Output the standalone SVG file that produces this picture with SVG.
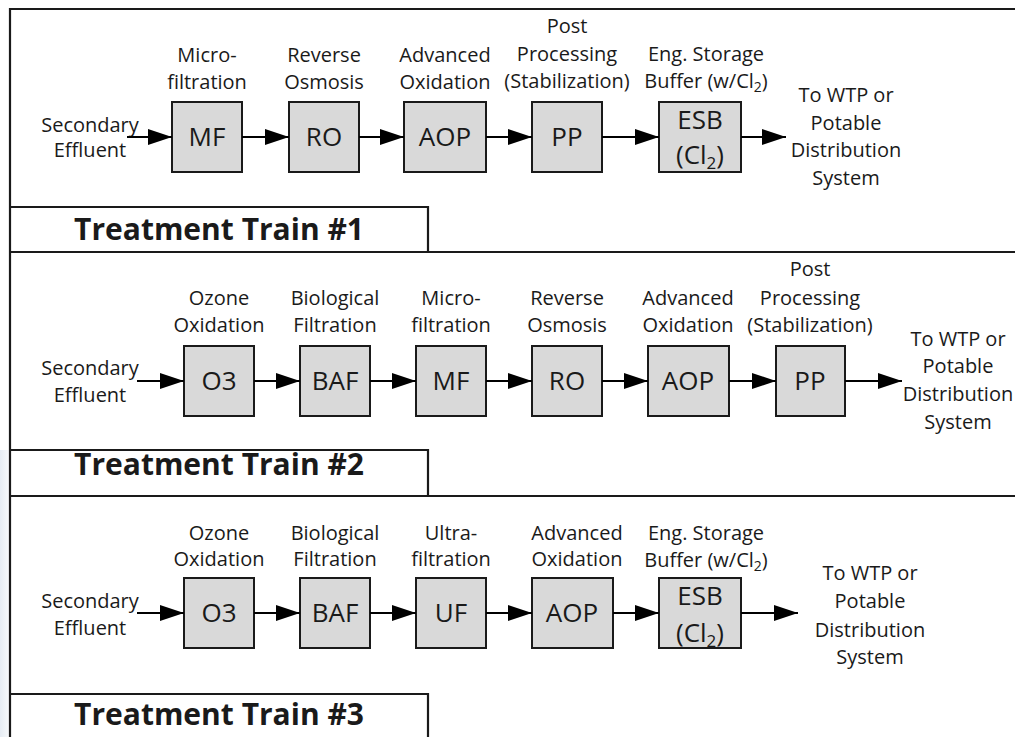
<svg xmlns="http://www.w3.org/2000/svg" width="1015" height="737" viewBox="0 0 1015 737">
<style>
text{font-family:"Open Sans","Liberation Sans",sans-serif;fill:#1a1a1a}
.lbl{font-size:20px;text-anchor:middle}
.box{fill:#d9d9d9;stroke:#1a1a1a;stroke-width:2}
.bt{font-size:26px;text-anchor:middle}
.frame{stroke:#1a1a1a;stroke-width:2.2;fill:none}
.title{font-size:30px;font-weight:bold;text-anchor:middle}
.conn{stroke:#000;stroke-width:2;fill:none;marker-end:url(#ah)}
</style>
<defs>
<marker id="ah" markerUnits="userSpaceOnUse" markerWidth="24" markerHeight="16" refX="24" refY="8" orient="auto">
<path d="M0,0 L24,8 L0,16 z" fill="#000"/>
</marker>
<linearGradient id="lg" x1="0" y1="0" x2="1" y2="0">
<stop offset="0" stop-color="#e6ecf3"/><stop offset="1" stop-color="#f7f9fb"/>
</linearGradient>
</defs>
<rect width="1015" height="737" fill="#fff"/>
<rect x="0" y="450" width="9" height="287" fill="url(#lg)"/>

<g id="frame" class="frame">
<path d="M10,737 V9 H1015"/>
<path d="M10,252 H1015"/>
<path d="M10,496 H1015"/>
<path d="M10,207 H428 V252"/>
<path d="M10,450 H428 V496"/>
<path d="M10,694 H428 V737"/>
</g>

<!-- Train 1 -->
<g id="t1-title"><text class="title" x="219" y="240">Treatment Train #1</text></g>
<g id="t1-in"><text class="lbl" x="90" y="132">Secondary</text><text class="lbl" x="90" y="157">Effluent</text></g>
<g id="t1-mf"><text class="lbl" x="207" y="62">Micro-</text><text class="lbl" x="207" y="89">filtration</text><rect class="box" x="172" y="102" width="70" height="70"/><text class="bt" x="207" y="146">MF</text></g>
<g id="t1-ro"><text class="lbl" x="324" y="62">Reverse</text><text class="lbl" x="324" y="89">Osmosis</text><rect class="box" x="289" y="102" width="70" height="70"/><text class="bt" x="324" y="146">RO</text></g>
<g id="t1-aop"><text class="lbl" x="445" y="62">Advanced</text><text class="lbl" x="445" y="89">Oxidation</text><rect class="box" x="404" y="102" width="82" height="70"/><text class="bt" x="445" y="146">AOP</text></g>
<g id="t1-pp"><text class="lbl" x="567" y="33">Post</text><text class="lbl" x="567" y="61">Processing</text><text class="lbl" x="567" y="88">(Stabilization)</text><rect class="box" x="532" y="102" width="70" height="70"/><text class="bt" x="567" y="146">PP</text></g>
<g id="t1-esb"><text class="lbl" x="706" y="61">Eng. Storage</text><text class="lbl" x="706" y="88">Buffer (w/Cl<tspan font-size="14" dy="4">2</tspan><tspan dy="-4">)</tspan></text><rect class="box" x="659" y="102" width="82" height="70"/><text class="bt" x="700" y="129">ESB</text><text class="bt" x="700" y="164">(Cl<tspan font-size="17" dy="5">2</tspan><tspan dy="-5">)</tspan></text></g>
<g id="t1-out"><text class="lbl" x="846" y="102">To WTP or</text><text class="lbl" x="846" y="130">Potable</text><text class="lbl" x="846" y="157">Distribution</text><text class="lbl" x="846" y="185">System</text></g>

<!-- Train 2 -->
<g id="t2-title"><text class="title" x="219" y="475">Treatment Train #2</text></g>
<g id="t2-in"><text class="lbl" x="90" y="375">Secondary</text><text class="lbl" x="90" y="402">Effluent</text></g>
<g id="t2-o3"><text class="lbl" x="219" y="305">Ozone</text><text class="lbl" x="219" y="332">Oxidation</text><rect class="box" x="184" y="346" width="70" height="70"/><text class="bt" x="219" y="390">O3</text></g>
<g id="t2-baf"><text class="lbl" x="335" y="305">Biological</text><text class="lbl" x="335" y="332">Filtration</text><rect class="box" x="300" y="346" width="70" height="70"/><text class="bt" x="335" y="390">BAF</text></g>
<g id="t2-mf"><text class="lbl" x="451" y="305">Micro-</text><text class="lbl" x="451" y="332">filtration</text><rect class="box" x="416" y="346" width="70" height="70"/><text class="bt" x="451" y="390">MF</text></g>
<g id="t2-ro"><text class="lbl" x="567" y="305">Reverse</text><text class="lbl" x="567" y="332">Osmosis</text><rect class="box" x="532" y="346" width="70" height="70"/><text class="bt" x="567" y="390">RO</text></g>
<g id="t2-aop"><text class="lbl" x="688" y="305">Advanced</text><text class="lbl" x="688" y="332">Oxidation</text><rect class="box" x="648" y="346" width="81" height="70"/><text class="bt" x="688" y="390">AOP</text></g>
<g id="t2-pp"><text class="lbl" x="810" y="276">Post</text><text class="lbl" x="810" y="305">Processing</text><text class="lbl" x="810" y="332">(Stabilization)</text><rect class="box" x="776" y="346" width="69" height="70"/><text class="bt" x="810" y="390">PP</text></g>
<g id="t2-out"><text class="lbl" x="958" y="346">To WTP or</text><text class="lbl" x="958" y="373">Potable</text><text class="lbl" x="958" y="401">Distribution</text><text class="lbl" x="958" y="429">System</text></g>

<!-- Train 3 -->
<g id="t3-title"><text class="title" x="219" y="725">Treatment Train #3</text></g>
<g id="t3-in"><text class="lbl" x="90" y="608">Secondary</text><text class="lbl" x="90" y="635">Effluent</text></g>
<g id="t3-o3"><text class="lbl" x="219" y="540">Ozone</text><text class="lbl" x="219" y="566">Oxidation</text><rect class="box" x="184" y="578" width="70" height="70"/><text class="bt" x="219" y="622">O3</text></g>
<g id="t3-baf"><text class="lbl" x="335" y="540">Biological</text><text class="lbl" x="335" y="566">Filtration</text><rect class="box" x="300" y="578" width="70" height="70"/><text class="bt" x="335" y="622">BAF</text></g>
<g id="t3-uf"><text class="lbl" x="451" y="540">Ultra-</text><text class="lbl" x="451" y="566">filtration</text><rect class="box" x="416" y="578" width="70" height="70"/><text class="bt" x="451" y="622">UF</text></g>
<g id="t3-aop"><text class="lbl" x="577" y="540">Advanced</text><text class="lbl" x="577" y="566">Oxidation</text><rect class="box" x="532" y="578" width="81" height="70"/><text class="bt" x="572" y="622">AOP</text></g>
<g id="t3-esb"><text class="lbl" x="706" y="540">Eng. Storage</text><text class="lbl" x="706" y="567">Buffer (w/Cl<tspan font-size="14" dy="4">2</tspan><tspan dy="-4">)</tspan></text><rect class="box" x="659" y="578" width="82" height="70"/><text class="bt" x="700" y="605">ESB</text><text class="bt" x="700" y="642">(Cl<tspan font-size="17" dy="5">2</tspan><tspan dy="-5">)</tspan></text></g>
<g id="t3-out"><text class="lbl" x="870" y="580">To WTP or</text><text class="lbl" x="870" y="608">Potable</text><text class="lbl" x="870" y="637">Distribution</text><text class="lbl" x="870" y="664">System</text></g>

<g id="connectors">
<path class="conn" d="M127,137 H172"/>
<path class="conn" d="M242,137 H289"/>
<path class="conn" d="M359,137 H404"/>
<path class="conn" d="M486,137 H532"/>
<path class="conn" d="M602,137 H659"/>
<path class="conn" d="M741,137 H786"/>
<path class="conn" d="M137,381 H184"/>
<path class="conn" d="M254,381 H300"/>
<path class="conn" d="M370,381 H416"/>
<path class="conn" d="M486,381 H532"/>
<path class="conn" d="M602,381 H648"/>
<path class="conn" d="M729,381 H776"/>
<path class="conn" d="M845,381 H902"/>
<path class="conn" d="M137,613 H184"/>
<path class="conn" d="M254,613 H300"/>
<path class="conn" d="M370,613 H416"/>
<path class="conn" d="M486,613 H532"/>
<path class="conn" d="M613,613 H659"/>
<path class="conn" d="M741,613 H798"/>
</g>
</svg>
